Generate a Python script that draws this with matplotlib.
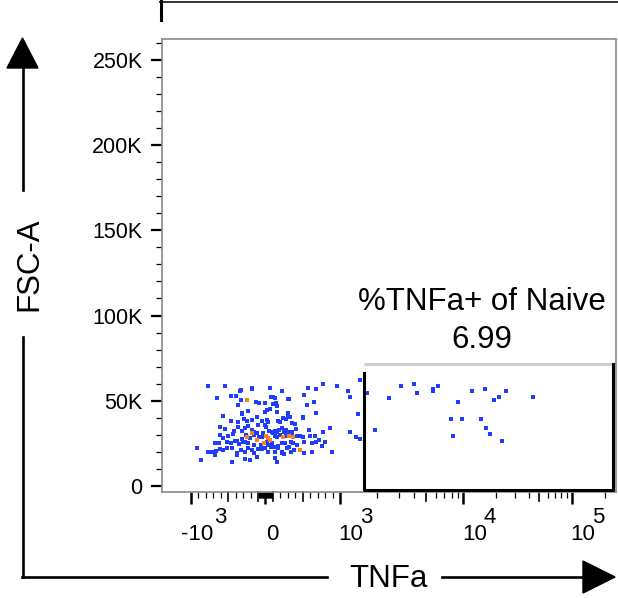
import numpy as np
import matplotlib
matplotlib.use("Agg")
import matplotlib.pyplot as plt
from matplotlib.lines import Line2D
from matplotlib.patches import Polygon

plt.rcParams['font.family'] = ['Liberation Sans', 'DejaVu Sans']

# events (TNFa, FSC-A)
blue_x = [1461, -776, -539, -177, -177, 60, 574, 673, 771, 959, 1154, -342, -325, 221, 1663,
          -656, -468, -396, 78, 105, 127, 320, 512, 1205,
          -325, -132, -83, -3, 105, 141, 150, 306, 552, 655,
          -374, -231, -320, -320, 15, 60, -7, 150, 306, 297, 507, 673, 1407,
          -566, -468, -374, -293, -253, -181, -119, -52, 15, 38, 172, 194, 239, 275, 328, 351, 400, 507,
          -611, -539, -423, -374, -320, -271, -231, -186, -150, -96, -7, 6, 51, 87, 127, 159, 185, 217,
          248, 275, 306, 355, 409, 579, 776, 865, 1198, 1919,
          -611, -566, -499, -432, -378, -320, -262, -208, -150, -119, -88, -52, -29, 96, 127, 159, 194,
          275, 351, 418, 463, 498, 597, 664, 722, 798, 1340, 1461,
          -678, -629, -521, -468, -410, -351, -307, -275, -231, -155, -61, 15, 38, 82, 127, 172, 217,
          261, 311, 337, 373, 427, 516, 619, 677, 753,
          -924, -767, -723, -665, -611, -566, -512, -450, -387, -334, -275, -231, -186, -155, -96, -52,
          -7, 38, 74, 127, 172, 217, 248, 284, 337, 382, 516, 628, 888,
          -870, -678, -445, -378, -275, -208, -119, 127, 159, 217,
          2495, 3120, 3954, 4230, 5660, 5660, 6250, 9080, 7920, 8180, 9670, 12050, 14580, 15670,
          16220, 17540, 18970, 21090, 22780, 24660, 43450]
blue_y = [62120, 58800, 58800, 57630, 56650, 57630, 57240, 56650, 59580, 58800, 55670, 55670, 56260, 55670, 54700,
          51380, 52740, 52740, 51960, 52350, 51380, 50990, 53330, 52350,
          50400, 49420, 48450, 48840, 48060, 48450, 47080, 50790, 47470, 49420,
          47470, 43960, 42980, 42200, 44540, 44930, 43570, 43570, 42590, 41610, 40240, 42980, 42200,
          41030, 38090, 37710, 39070, 38090, 38680, 40240, 38290, 38680, 37310, 38090, 37710, 39660, 39270, 40240, 36730, 36340, 39660,
          34780, 33210, 32240, 34780, 32430, 33800, 35170, 32820, 31460, 35750, 35750, 34780, 32430, 31850, 32240, 31850, 32820, 33800,
          31850, 32820, 31850, 31850, 33210, 32820, 31850, 33800, 31850, 32820,
          29890, 27940, 29310, 30480, 26570, 27360, 29890, 28330, 29890, 30870, 28920, 28530, 30870, 30870, 29310, 28530, 29890,
          29310, 29310, 29310, 29310, 28920, 29310, 29310, 26960, 25990, 28530, 27360,
          25400, 25400, 25990, 25010, 26380, 24620, 25990, 25600, 25010, 24030, 24030, 25990, 24030, 25010, 22670, 23450, 25400,
          25010, 23060, 25990, 25400, 24030, 25990, 25010, 25990, 23450,
          22080, 20130, 20130, 20720, 21500, 21110, 22080, 22470, 19540, 21110, 20130, 22080, 21110, 19150, 21500, 21500,
          22080, 20130, 22670, 20130, 22080, 20130, 18760, 22080, 20130, 21110, 19540, 20130, 20130,
          15250, 18180, 13880, 18180, 15640, 15250, 17200, 16220, 13880, 19150,
          51390, 58780, 59770, 54670, 56670, 55670, 58780, 49400, 39090, 29480, 39090, 55670, 39090, 56670,
          33810, 30650, 50400, 52330, 26550, 55670, 52330]

# denser events (drawn orange)
orange_x = [-253, -244, -181, 6, 29, 60, 230, 311, 373, -110, -16, 463]
orange_y = [50400, 28920, 31260, 29310, 28330, 26960, 28920, 29310, 28920, 26960, 25010, 21110]

gate_left, gate_right = 1564, 238800
gate_bottom, gate_top = -2300, 71500
gate_name = "%TNFa+ of Naive"
gate_value = "6.99"

x_major = [-1000, 0, 1000, 10000, 100000]
x_mid = [-500, -100, 100, 500, 5000, 50000]
x_minor = ([-v for v in range(200, 1000, 100) if v != 500] + [-v for v in range(10, 100, 10)]
           + [v for v in range(10, 100, 10)] + [v for v in range(200, 1000, 100) if v != 500]
           + [v for v in range(2000, 10000, 1000) if v != 5000]
           + [v for v in range(20000, 100000, 10000) if v != 50000] + [200000])
x_labels = [(-1000, '-10', '3'), (0, '0', ''), (1000, '10', '3'), (10000, '10', '4'), (100000, '10', '5')]

y_major = [0, 50000, 100000, 150000, 200000, 250000]
y_major_labels = ['0', '50K', '100K', '150K', '200K', '250K']
y_minor = [v for v in range(10000, 270000, 10000) if v % 50000 != 0]

# biex-like axis: linear within +-1000, log decades beyond
LIN = 1000.0
LIN_W = 74.5
DEC = [3.0, 4.0, 5.0, 6.0]
DEC_W = [74.5, 198.0, 306.5, 415.0]


def fwd(x):
    x = np.asarray(x, dtype=float)
    a = np.abs(x)
    lg = np.log10(np.maximum(a, LIN))
    return np.where(a <= LIN, x * LIN_W / LIN, np.sign(x) * np.interp(lg, DEC, DEC_W))


def inv(s):
    s = np.asarray(s, dtype=float)
    a = np.abs(s)
    e = np.interp(np.maximum(a, LIN_W), DEC_W, DEC)
    return np.where(a <= LIN_W, s * LIN / LIN_W, np.sign(s) * 10 ** e)


W, H = 618, 598
fig = plt.figure(figsize=(W / 100, H / 100), dpi=100)


def fp(x, y):
    return x / W, 1 - y / H


ax = fig.add_axes([162 / W, 1 - 492 / H, (616 - 162) / W, (492 - 39) / H])
ax.set_xscale('function', functions=(fwd, inv))
ax.set_xlim(-1717, 254400)
ax.set_ylim(-3500, 262144)

ax.scatter(blue_x, blue_y, s=6, marker='s', color='#1f3cff', linewidths=0, zorder=2)
ax.scatter(orange_x, orange_y, s=6, marker='s', color='#f5841a', linewidths=0, zorder=3)

# gate
ax.plot([gate_left, gate_right], [gate_top, gate_top], color='#cfcfcf', lw=2.2, solid_capstyle='butt', zorder=4)
ax.plot([gate_left, gate_left, gate_right, gate_right], [gate_top * 0.93, gate_bottom, gate_bottom, gate_top],
        color='black', lw=2.2, solid_capstyle='projecting', zorder=5)
ax.text(0.705, 0.4018, gate_name, transform=ax.transAxes, ha='center', va='baseline', fontsize=22.5)
ax.text(0.705, 0.3179, gate_value, transform=ax.transAxes, ha='center', va='baseline', fontsize=22.5)

for sp in ax.spines.values():
    sp.set_color('#8a8a8a')
    sp.set_linewidth(1.2)

ax.set_xticks(x_major)
ax.set_xticklabels([])
ax.set_xticks(x_minor, minor=True)
ax.tick_params(axis='x', which='major', length=8.6, width=1.8, color='black')
ax.tick_params(axis='x', which='minor', length=4.3, width=0.9, color='black')
xt = ax.get_xaxis_transform()
for v in x_mid:
    ax.plot([v, v], [0, -0.02], transform=xt, color='black', lw=1.2, clip_on=False)

for v, base, ex in x_labels:
    dx = -10 if base.startswith('-') else (1 if base == '0' else -1.5)
    ax.annotate(base, xy=(v, 0), xycoords=xt, xytext=(dx, -48), textcoords='offset pixels',
                ha='left', va='baseline', fontsize=16)
    if ex:
        edx = 23 if base.startswith('-') else 20.5
        ax.annotate(ex, xy=(v, 0), xycoords=xt, xytext=(edx, -31), textcoords='offset pixels',
                    ha='left', va='baseline', fontsize=16)

ax.set_yticks(y_major)
ax.set_yticklabels(y_major_labels)
ax.set_yticks(y_minor, minor=True)
ax.tick_params(axis='y', which='major', length=7.9, width=1.6, color='black', pad=6, labelsize=15.5)
ax.tick_params(axis='y', which='minor', length=4.3, width=0.9, color='black')

# axis arrows
lw = 1.9
fig.add_artist(Line2D(*zip(fp(22.5, 577), fp(22.5, 337)), color='black', lw=lw))
fig.add_artist(Line2D(*zip(fp(22.5, 190), fp(22.5, 66)), color='black', lw=lw))
fig.add_artist(Polygon([fp(7, 68), fp(38, 68), fp(22.5, 38)], closed=True, color='black',
                       transform=fig.transFigure))
fig.add_artist(Line2D(*zip(fp(21.5, 577), fp(327, 577)), color='black', lw=lw))
fig.add_artist(Line2D(*zip(fp(442, 577), fp(585, 577)), color='black', lw=lw))
fig.add_artist(Polygon([fp(583, 561), fp(583, 593), fp(615, 577)], closed=True, color='black',
                       transform=fig.transFigure))
fig.text(*fp(29.5, 264.5), 'FSC-A', rotation=90, ha='center', va='center', fontsize=22.5)
fig.text(*fp(388, 587), 'TNFa', ha='center', va='baseline', fontsize=22.5)

# bracket at top
fig.add_artist(Line2D(*zip(fp(160, 2), fp(618, 2)), color='#333333', lw=1.4))
fig.add_artist(Line2D(*zip(fp(161, 0), fp(161, 20)), color='black', lw=2.2))

fig.savefig('out.png', dpi=100)
